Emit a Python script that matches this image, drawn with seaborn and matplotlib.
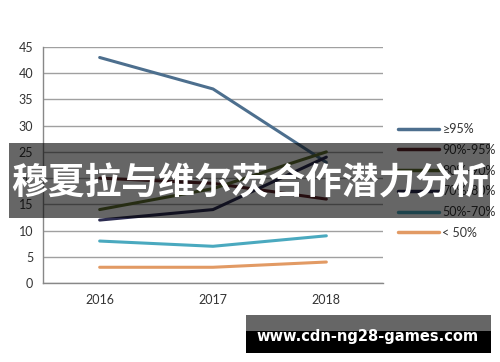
import matplotlib
matplotlib.use("Agg")
import matplotlib.pyplot as plt
from matplotlib.patches import Rectangle
import seaborn as sns
import pandas as pd

years = ["2016", "2017", "2018"]
series = ["≥95%", "90%-95%", "80%-90%", "70%-80%", "50%-70%", "< 50%"]
v_95 = [43, 37, 23]
v_90_95 = [20, 19, 16]
v_80_90 = [14, 18, 25]
v_70_80 = [12, 14, 24]
v_50_70 = [8, 7, 9]
v_lt50 = [3, 3, 4]
colors = ["#4d6f8e", "#5e2428", "#5f7030", "#2c2c50", "#4aa9bf", "#e29a64"]
title = "穆夏拉与维尔茨合作潜力分析"
watermark = "www.cdn-ng28-games.com"

values = [v_95, v_90_95, v_80_90, v_70_80, v_50_70, v_lt50]
rows = []
for name, vals in zip(series, values):
    for i, v in enumerate(vals):
        rows.append({"x": i, "value": v, "series": name})
df = pd.DataFrame(rows)

sns.set_style("white")
plt.rcParams["font.family"] = ["Lato", "DejaVu Sans", "Noto Sans CJK SC"]

fig = plt.figure(figsize=(5.0, 3.62), dpi=100)
ax = fig.add_axes([43 / 500, (362 - 283) / 362, 340 / 500, (283 - 47) / 362])

sns.lineplot(data=df, x="x", y="value", hue="series", hue_order=series,
             palette=colors, linewidth=2.2, ax=ax, legend=True)

ax.set_xlim(-0.5, 2.5)
ax.set_ylim(0, 45)
ax.set_yticks(range(0, 46, 5))
ax.set_xticks([0, 1, 2])
ax.set_xticklabels(years)
ax.set_xticks([-0.5, 0.5, 1.5, 2.5], minor=True)
ax.tick_params(axis="x", which="major", length=0, labelsize=9, colors="#333333", pad=8)
ax.tick_params(axis="x", which="minor", length=4, color="#888888", direction="out")
ax.tick_params(axis="y", length=4, color="#888888", labelsize=9, colors="#333333", pad=3)
ax.set_xlabel("")
ax.set_ylabel("")
ax.grid(axis="y", color="#a0a0a0", linewidth=1)
ax.set_axisbelow(True)
for s in ["top", "right"]:
    ax.spines[s].set_visible(False)
for s in ["left", "bottom"]:
    ax.spines[s].set_color("#888888")
    ax.spines[s].set_linewidth(1)

handles, labels = ax.get_legend_handles_labels()
leg = ax.legend(handles, labels, loc="upper left", bbox_to_anchor=(398 / 500, 1 - 123 / 362),
                bbox_transform=fig.transFigure, frameon=False, borderpad=0, borderaxespad=0,
                handlelength=3.3, handletextpad=0.25, labelspacing=0.7,
                prop={"family": ["Lato", "DejaVu Sans"], "size": 9})
for line in leg.get_lines():
    line.set_linewidth(2.5)
for t in leg.get_texts():
    t.set_color("#333333")

# title overlay band
fig.patches.append(Rectangle((9 / 500, 1 - 218 / 362), 481 / 500, 75 / 362,
                             transform=fig.transFigure, facecolor="black", alpha=0.6,
                             edgecolor="none", zorder=10))
fig.text(0.5, 1 - 184 / 362, title, ha="center", va="center", color="white",
         fontsize=26.5, fontweight="bold", family=["Noto Sans CJK SC", "DejaVu Sans"], zorder=11)

# watermark box
fig.patches.append(Rectangle((246 / 500, 1 - 331 / 362), 245 / 500, 16 / 362,
                             transform=fig.transFigure, facecolor="#666666",
                             edgecolor="none", zorder=10))
fig.patches.append(Rectangle((246 / 500, 1 - 353 / 362), 245 / 500, 22 / 362,
                             transform=fig.transFigure, facecolor="black",
                             edgecolor="none", zorder=10))
fig.text(368 / 500, 1 - 337 / 362, watermark, ha="center", va="center", color="white",
         fontsize=10.5, fontweight="bold", family="DejaVu Sans", zorder=11)

fig.savefig("out.png", dpi=100)
